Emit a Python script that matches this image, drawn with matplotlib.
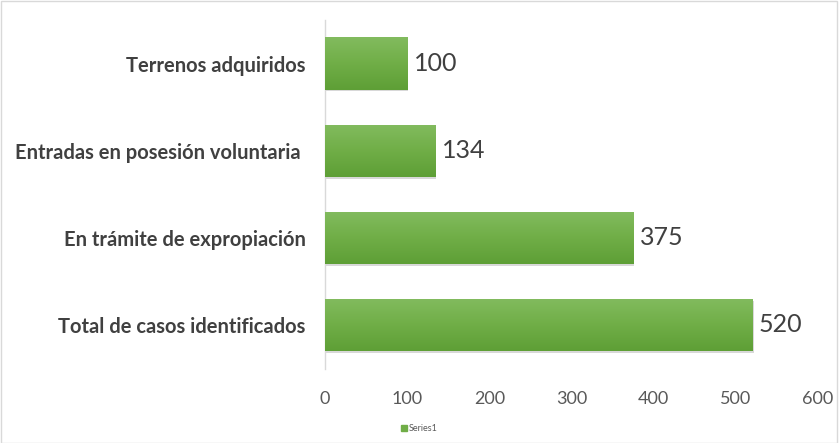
import matplotlib.pyplot as plt
import numpy as np
from matplotlib.patches import Patch
from matplotlib.colors import LinearSegmentedColormap

categories = [
    "Total de casos identificados",
    "En trámite de expropiación",
    "Entradas en posesión voluntaria ",
    "Terrenos adquiridos",
]
values = [520, 375, 134, 100]
x_ticks = [0, 100, 200, 300, 400, 500, 600]

plt.rcParams["font.family"] = ["Lato", "DejaVu Sans"]

fig = plt.figure(figsize=(8.39, 4.43), dpi=100)
ax = fig.add_axes([0.3874, 0.168, 0.5876, 0.787])

ypos = np.arange(len(categories))
bars = ax.barh(ypos, values, height=0.6, color="#70AD47", edgecolor="none", zorder=3)

# vertical gradient inside each bar, light top to darker bottom
grad = np.linspace(0, 1, 64).reshape(-1, 1)
cmap = LinearSegmentedColormap.from_list("g", ["#5e9f36", "#70ae47", "#82bb5e"])
for b in bars:
    x0, y0 = b.get_x(), b.get_y()
    w, h = b.get_width(), b.get_height()
    # soft shadow
    ax.barh(y0 + h / 2 - 0.02, w, height=h, left=x0 + 1.5, color="#bfbfbf",
            edgecolor="none", zorder=2, alpha=0.6)
    im = ax.imshow(grad, extent=[x0, x0 + w, y0, y0 + h], origin="lower",
                   aspect="auto", cmap=cmap, zorder=4)
    im.set_clip_path(b)

for y, v in zip(ypos, values):
    ax.text(v + 8, y, str(v), va="center", ha="left", fontsize=18, color="#404040", zorder=5)

ax.set_xlim(0, 600)
ax.set_ylim(-0.5, 3.5)
ax.set_xticks(x_ticks)
ax.set_xticklabels([str(t) for t in x_ticks], fontsize=13, color="#595959")
ax.set_yticks(ypos)
ax.set_yticklabels(categories, fontsize=14.5, fontweight="bold", color="#404040")
ax.tick_params(axis="both", length=0)
ax.tick_params(axis="x", pad=16)
ax.tick_params(axis="y", pad=14)
for s in ["top", "right", "bottom"]:
    ax.spines[s].set_visible(False)
ax.spines["left"].set_color("#d9d9d9")
ax.spines["left"].set_linewidth(1.0)

fig.legend(handles=[Patch(color="#70AD47", label="Series1")], loc="center",
           bbox_to_anchor=(0.5, 0.032), frameon=False, fontsize=6.5,
           handlelength=0.7, handleheight=0.7, handletextpad=0.2,
           labelcolor="#595959")

fig.patches.append(plt.Rectangle((0.001, 0.001), 0.997, 0.997, transform=fig.transFigure,
                                 fill=False, edgecolor="#d9d9d9", linewidth=1))

fig.savefig("out.png", dpi=100)
